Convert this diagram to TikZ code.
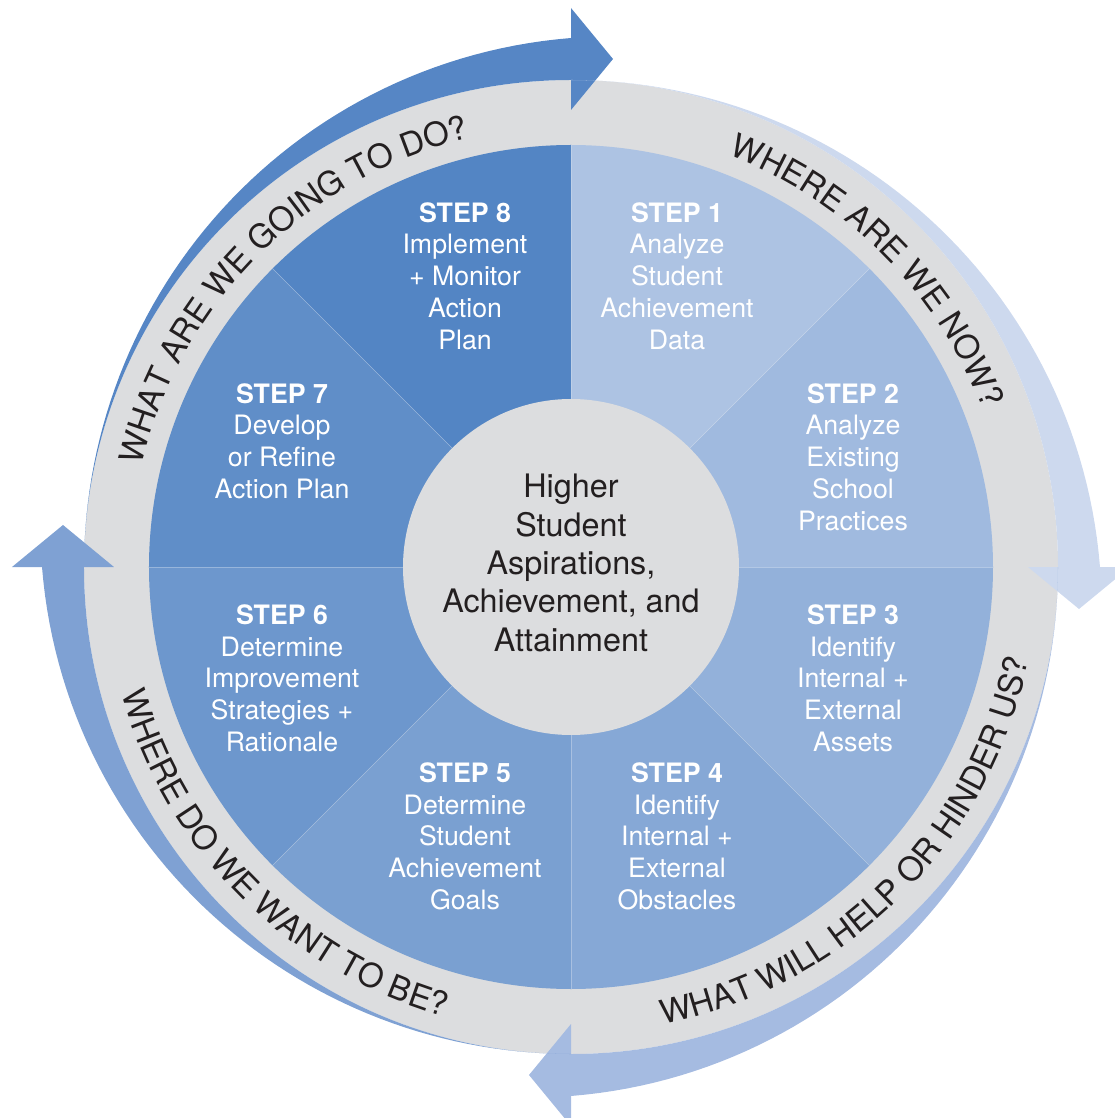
\documentclass[tikz,border=0pt]{standalone}
\usepackage{fontspec}
\setmainfont{TeX Gyre Heros}
\usetikzlibrary{decorations.text}
\definecolor{ringgray}{HTML}{DCDDDF}
\definecolor{steplight}{RGB}{173,195,227}
\definecolor{stepdark}{RGB}{83,133,196}
\definecolor{inktext}{HTML}{231F20}
\definecolor{arwa}{RGB}{86,134,197}
\definecolor{arwb}{HTML}{CDD9EE}
\definecolor{arwc}{HTML}{A5BBE1}
\definecolor{arwd}{HTML}{7FA1D3}
\newcommand{\whlri}{422}
\newcommand{\whlro}{487}
\newcommand{\whlrc}{168}
\newcommand{\arwtk}{42}
\newcommand{\arwhw}{51}
\newcommand{\arwhl}{42}
\newcommand{\txtrcw}{441}
\newcommand{\txtrcc}{467}
\tikzset{
  steplbl/.style={align=center, text=white, inner sep=0pt, anchor=north,
    font=\fontsize{19}{22.7}\selectfont},
  hublbl/.style={align=center, text=inktext, inner sep=0pt,
    font=\fontsize{23}{27.3}\selectfont},
  ringtxt/.style={decorate, decoration={text along path, text align=center,
    text color=inktext, text={|\fontsize{23.5}{27}\selectfont|#1}}}
}

\begin{document}
\begin{tikzpicture}[x=0.025cm, y=0.025cm]

    \useasboundingbox (-571,-551) rectangle (544,567);
    \clip (-571,-551) rectangle (544,567);

    \fill [ringgray] (0,0) circle [radius=\whlro];

    \foreach \k in {1,...,8} {
      \pgfmathtruncatemacro{\mx}{round(100*(\k-1)/7)}
      \pgfmathsetmacro{\sa}{90-45*\k}
      \fill [stepdark!\mx!steplight] (0,0) -- ({\sa+45}:\whlri)
        arc [start angle={\sa+45}, end angle=\sa, radius=\whlri] -- cycle;
    }
    \foreach \a in {0,45,...,315}
      \draw [white, opacity=0.3, line width=0.4pt] (0,0) -- (\a:\whlri);

    \foreach \rot/\clr in {0/arwa, -90/arwb, -180/arwc, -270/arwd} {
      \begin{scope}[rotate=\rot]
        \fill [\clr] (180:\whlro)
          arc [start angle=180, end angle=90, radius=\whlro]
          -- (0,{\whlro+\arwtk/2-\arwhw})
          -- (\arwhl,{\whlro+\arwtk/2})
          -- (0,{\whlro+\arwtk/2+\arwhw})
          -- (0,{\whlro+\arwtk})
          -- plot [domain=90:180, samples=60] (\x:{\whlro+\arwtk+\arwtk*cos(\x)})
          -- cycle;
      \end{scope}
    }

    \fill [ringgray] (0,0) circle [radius=\whlrc];
    \node [hublbl] (hub) at (0,4)
      {Higher\\Student\\Aspirations,\\Achievement, and\\Attainment};

    \node [steplbl] (s1) at (106,365)
      {\textbf{STEP 1}\\Analyze\\Student\\Achievement\\Data};
    \node [steplbl] (s2) at (282,184)
      {\textbf{STEP 2}\\Analyze\\Existing\\School\\Practices};
    \node [steplbl] (s3) at (282,-37)
      {\textbf{STEP 3}\\Identify\\Internal +\\External\\Assets};
    \node [steplbl] (s4) at (106,-195)
      {\textbf{STEP 4}\\Identify\\Internal +\\External\\Obstacles};
    \node [steplbl] (s5) at (-106,-195)
      {\textbf{STEP 5}\\Determine\\Student\\Achievement\\Goals};
    \node [steplbl] (s6) at (-289,-37)
      {\textbf{STEP 6}\\Determine\\Improvement\\Strategies +\\Rationale};
    \node [steplbl] (s7) at (-289,184)
      {\textbf{STEP 7}\\Develop\\or Refine\\Action Plan};
    \node [steplbl] (s8) at (-106,365)
      {\textbf{STEP 8}\\Implement\\+ Monitor\\Action\\Plan};

    \path [ringtxt={WHAT ARE WE GOING TO DO?}] (185:\txtrcw)
      arc [start angle=185, end angle=85, radius=\txtrcw];
    \path [ringtxt={WHERE ARE WE NOW?}] (95:\txtrcw)
      arc [start angle=95, end angle=-5, radius=\txtrcw];
    \path [ringtxt={WHAT WILL HELP OR HINDER US?}] (-95:\txtrcc)
      arc [start angle=-95, end angle=5, radius=\txtrcc];
    \path [ringtxt={WHERE DO WE WANT TO BE?}] (175:\txtrcc)
      arc [start angle=175, end angle=275, radius=\txtrcc];

  \end{tikzpicture}
\end{document}
